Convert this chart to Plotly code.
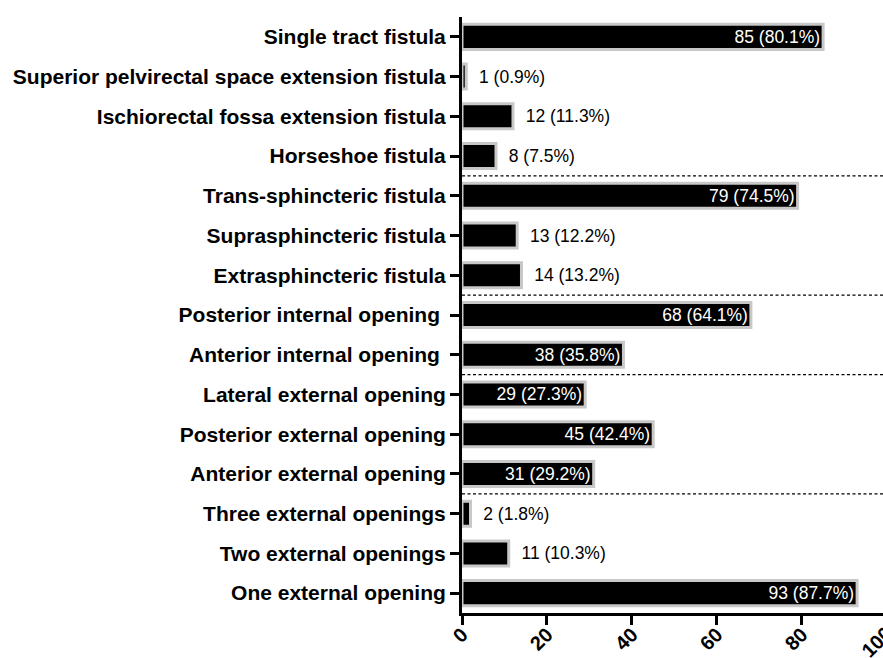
import plotly.graph_objects as go

categories = [
    "Single tract fistula",
    "Superior pelvirectal space extension fistula",
    "Ischiorectal fossa extension fistula",
    "Horseshoe fistula",
    "Trans-sphincteric fistula",
    "Suprasphincteric fistula",
    "Extrasphincteric fistula",
    "Posterior internal opening\u00a0",
    "Anterior internal opening\u00a0",
    "Lateral external opening",
    "Posterior external opening",
    "Anterior external opening",
    "Three external openings",
    "Two external openings",
    "One external opening",
]
counts = [85, 1, 12, 8, 79, 13, 14, 68, 38, 29, 45, 31, 2, 11, 93]
percents = [80.1, 0.9, 11.3, 7.5, 74.5, 12.2, 13.2, 64.1, 35.8, 27.3, 42.4, 29.2, 1.8, 10.3, 87.7]
# number of rows in each group, top to bottom (dashed separators between groups)
group_sizes = [4, 3, 2, 3, 3]
x_ticks = [0, 20, 40, 60, 80, 100]

font_fam = "Arial, Liberation Sans, Helvetica, sans-serif"
inside_min = 25  # bars at least this long carry their label inside

labels, positions, colors = [], [], []
for c, p in zip(counts, percents):
    if c >= inside_min:
        labels.append(f"{c} ({p}%)")
        positions.append("inside")
        colors.append("white")
    else:
        labels.append(f"\u00a0\u00a0{c} ({p}%)")
        positions.append("outside")
        colors.append("black")

fig = go.Figure()
fig.add_trace(go.Bar(
    x=counts, y=categories, orientation="h",
    marker=dict(color="black", line=dict(color="#c8c8c8", width=3)),
    text=labels, textposition=positions, insidetextanchor="end",
    textfont=dict(color=colors, size=17.5, family=font_fam),
    constraintext="none", cliponaxis=False,
))

xmax = 99.1
shapes = []
pos = 0
for g in group_sizes[:-1]:
    pos += g
    shapes.append(dict(type="line", xref="paper", x0=0, x1=1, yref="y",
                       y0=pos - 0.5, y1=pos - 0.5,
                       line=dict(color="black", width=1.2, dash="3px,2.5px")))

annotations = [dict(xref="paper", yref="paper", x=x_ticks[-1] / xmax, y=0, yshift=-29, xshift=-10,
                    xanchor="center", yanchor="middle",
                    text=f"<b>{x_ticks[-1]}</b>", showarrow=False, textangle=-45,
                    font=dict(size=20, family=font_fam, color="black"))]

fig.update_layout(
    width=883, height=658,
    margin=dict(l=462, r=0, t=17, b=45),
    plot_bgcolor="white", paper_bgcolor="white",
    bargap=0.37, showlegend=False,
    shapes=shapes, annotations=annotations,
    font=dict(family=font_fam, color="black"),
    xaxis=dict(range=[0, xmax], tickvals=x_ticks[:-1], ticktext=[f"<b>{t}</b>" for t in x_ticks[:-1]],
               tickangle=-45, tickfont=dict(size=20, family=font_fam), ticklabelstandoff=-10,
               showgrid=False, zeroline=False, showline=True, linecolor="black", linewidth=3,
               ticks="outside", ticklen=9, tickwidth=2.5, tickcolor="black", automargin=False),
    yaxis=dict(autorange="reversed", tickvals=categories,
               ticktext=[f"<b>{c}</b>" for c in categories],
               tickfont=dict(size=21, family=font_fam),
               showgrid=False, zeroline=False, showline=True, linecolor="black", linewidth=3,
               ticks="outside", ticklen=9, tickwidth=2.5, tickcolor="black", automargin=False),
)

fig.write_html("out.html", config={"displayModeBar": False},
               post_script="document.body.style.margin='0';document.body.style.overflow='hidden';")
